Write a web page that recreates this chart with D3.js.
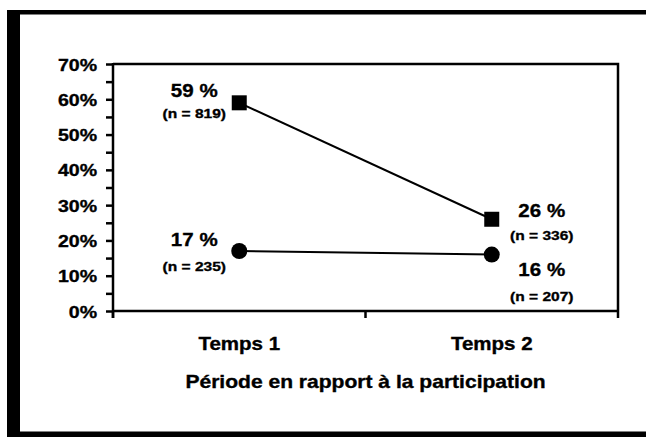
<!DOCTYPE html>
<html>
<head>
<meta charset="utf-8">
<script src="https://cdn.jsdelivr.net/npm/d3@7"></script>
<style>
  html, body { margin: 0; padding: 0; background: #fff; }
  svg { display: block; }
  text { font-family: "Liberation Sans", Arial, sans-serif; font-weight: bold; fill: #000; stroke: #000; stroke-width: 0.35px; }
</style>
</head>
<body>
<script>
// ---- data ----
const categories = ["Temps 1", "Temps 2"];
const squareSeries = [59, 26];
const circleSeries = [17, 16];
const squareN = [819, 336];
const circleN = [235, 207];
const yTickValues = [0, 10, 20, 30, 40, 50, 60, 70];
const yTickLabels = ["0%", "10%", "20%", "30%", "40%", "50%", "60%", "70%"];
const yMinorTicks = [5, 15, 25, 35, 45, 55, 65];
const xTitle = "Période en rapport à la participation";

// ---- layout ----
const W = 646, H = 437;
const plot = { left: 113, right: 618, top: 64, bottom: 311 };

const svg = d3.select("body").append("svg").attr("width", W).attr("height", H);

// outer frame (thick black bands)
svg.append("rect").attr("x", 7).attr("y", 10).attr("width", W - 7).attr("height", 4.5).attr("fill", "#000");
svg.append("rect").attr("x", 7).attr("y", 10).attr("width", 13).attr("height", H - 10).attr("fill", "#000");
svg.append("rect").attr("x", 7).attr("y", 431.5).attr("width", W - 7).attr("height", 6).attr("fill", "#000");

const x = d3.scaleBand().domain(categories).range([plot.left, plot.right]);
const y = d3.scaleLinear().domain([0, 70]).range([plot.bottom, plot.top]);
const cx = c => x(c) + x.bandwidth() / 2;

function stext(g, tx, ty, str, size, sx, anchor) {
  return g.append("text")
    .attr("transform", `translate(${tx},${ty}) scale(${sx},1)`)
    .attr("text-anchor", anchor || "middle")
    .style("font-size", size + "px")
    .text(str);
}

// plot frame top/right
svg.append("path")
  .attr("d", `M${plot.left},${plot.top}H${plot.right}V${plot.bottom}`)
  .attr("fill", "none").attr("stroke", "#000").attr("stroke-width", 2.5);

// y axis
const yAxis = d3.axisLeft(y)
  .tickValues(yTickValues.concat(yMinorTicks))
  .tickSize(7)
  .tickFormat("");
const gy = svg.append("g").attr("transform", `translate(${plot.left},0)`).call(yAxis);
gy.select(".domain").remove();
gy.selectAll(".tick line").attr("stroke", "#000").attr("stroke-width", 2.5);
svg.append("line").attr("x1", plot.left).attr("x2", plot.left)
  .attr("y1", plot.top - 1).attr("y2", plot.bottom + 7)
  .attr("stroke", "#000").attr("stroke-width", 2.5);
yTickValues.forEach((v, i) => {
  stext(svg, plot.left - 16, y(v) + 6.5, yTickLabels[i], 17, 1.15, "end");
});

// x axis
svg.append("line").attr("x1", plot.left).attr("x2", plot.right + 1)
  .attr("y1", plot.bottom).attr("y2", plot.bottom)
  .attr("stroke", "#000").attr("stroke-width", 2.5);
const xBounds = [plot.left, ...categories.map(c => x(c) + x.bandwidth())];
xBounds.forEach(b => {
  svg.append("line").attr("x1", b).attr("x2", b)
    .attr("y1", plot.bottom).attr("y2", plot.bottom + 7)
    .attr("stroke", "#000").attr("stroke-width", 2.5);
});
categories.forEach(c => stext(svg, cx(c), 350, c, 18, 1.14));
stext(svg, (plot.left + plot.right) / 2, 388, xTitle, 18, 1.17);

// lines
const line = d3.line().x((d, i) => cx(categories[i])).y(d => y(d));
[squareSeries, circleSeries].forEach(s => {
  svg.append("path").datum(s).attr("d", line)
    .attr("fill", "none").attr("stroke", "#000").attr("stroke-width", 2);
});

// markers
const sq = 15;
squareSeries.forEach((v, i) => {
  svg.append("rect").attr("x", cx(categories[i]) - sq / 2).attr("y", y(v) - sq / 2)
    .attr("width", sq).attr("height", sq).attr("fill", "#000");
});
circleSeries.forEach((v, i) => {
  svg.append("circle").attr("cx", cx(categories[i])).attr("cy", y(v)).attr("r", 8).attr("fill", "#000");
});

// data labels: [dx, dy for % label, dy for n label]
const squareLabelPos = [[-45, -6, 15], [50, -2, 21]];
const circleLabelPos = [[-45, -5, 20], [50, 21, 46]];
function labels(series, ns, pos) {
  series.forEach((v, i) => {
    const px = cx(categories[i]), py = y(v);
    const p = pos[i];
    stext(svg, px + p[0], py + p[1], v + " %", 19, 1.08);
    stext(svg, px + p[0], py + p[2], "(n = " + ns[i] + ")", 13.5, 1.15);
  });
}
labels(squareSeries, squareN, squareLabelPos);
labels(circleSeries, circleN, circleLabelPos);
</script>
</body>
</html>
